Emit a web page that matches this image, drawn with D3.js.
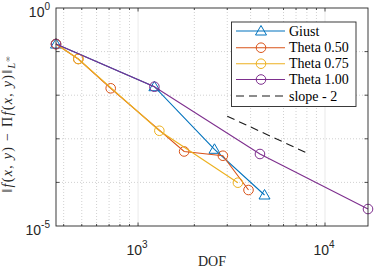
<!DOCTYPE html>
<html>
<head>
<meta charset="utf-8">
<script src="https://cdn.jsdelivr.net/npm/d3@7"></script>
<style>
    html, body { margin: 0; padding: 0; background: #fff; }
    svg { display: block; }
</style>
</head>
<body>
<div id="chart"></div>
<script>
"use strict";

// Series (DOF vs. L-infinity error)
const seriesNames = ["Giust", "Theta 0.50", "Theta 0.75", "Theta 1.00"];
const giustDof = [364, 1223, 2563, 4748];
const giustErr = [0.149, 0.01566, 5.74e-4, 5.14e-5];
const theta050Dof = [364, 479, 714, 1764, 2843, 3898];
const theta050Err = [0.149, 0.0677, 0.0144, 5.12e-4, 4.09e-4, 6.69e-5];
const theta075Dof = [364, 479, 1300, 3420];
const theta075Err = [0.149, 0.0677, 1.53e-3, 9.85e-5];
const theta100Dof = [364, 1223, 4488, 16982];
const theta100Err = [0.149, 0.01566, 4.48e-4, 2.45e-5];

// Reference slope line
const slopeLabel = "slope - 2";
const slopeDof = [3000, 8200];
const slopeErr = [3.3e-3, 4.5e-4];

// Axis ticks
const xMajorTicks = [1e3, 1e4];
const xMinorTicks = [400, 500, 600, 700, 800, 900, 2000, 3000, 4000, 5000, 6000, 7000, 8000, 9000];
const yMajorTicks = [1e-5, 1e0];
const yMinorTicks = [1e-4, 1e-3, 1e-2, 1e-1];
const xTickLabels = [["10", "3"], ["10", "4"]];
const yTickLabels = [["10", "-5"], ["10", "0"]];

const width = 374, height = 270;
const margin = { top: 8, left: 56, bottom: 44, right: 6 };
const innerW = width - margin.left - margin.right;
const innerH = height - margin.top - margin.bottom;

const colors = ["#0072BD", "#D95319", "#EDB120", "#7E2F8E"];
const axisColor = "#262626";
const sansFont = "'Liberation Sans', Arial, sans-serif";
const serifFont = "'Liberation Serif', 'Times New Roman', serif";

let series = [
    { name: seriesNames[0], dof: giustDof, err: giustErr, marker: "triangle" },
    { name: seriesNames[1], dof: theta050Dof, err: theta050Err, marker: "circle" },
    { name: seriesNames[2], dof: theta075Dof, err: theta075Err, marker: "circle" },
    { name: seriesNames[3], dof: theta100Dof, err: theta100Err, marker: "circle" }
];
series.forEach((s, i) => { s.color = colors[i]; });

let svg = d3.select("#chart").append("svg")
    .attr("width", width)
    .attr("height", height);

let xScale = d3.scaleLog()
    .domain([d3.min(theta100Dof), d3.max(theta100Dof)])
    .range([margin.left, margin.left + innerW]);

let yScale = d3.scaleLog()
    .domain([1e-5, 1])
    .range([margin.top + innerH, margin.top]);

let x0 = margin.left, x1 = margin.left + innerW;
let y0 = margin.top + innerH, y1 = margin.top;

// Grid lines
let grid = svg.append("g").attr("class", "grid");

grid.selectAll("line.xminor")
    .data(xMinorTicks)
    .enter().append("line")
    .attr("x1", d => xScale(d)).attr("x2", d => xScale(d))
    .attr("y1", y0).attr("y2", y1)
    .style("stroke", "#bdbdbd")
    .style("stroke-width", 0.7)
    .style("stroke-dasharray", "1 2");

grid.selectAll("line.yminor")
    .data(yMinorTicks)
    .enter().append("line")
    .attr("y1", d => yScale(d)).attr("y2", d => yScale(d))
    .attr("x1", x0).attr("x2", x1)
    .style("stroke", "#bdbdbd")
    .style("stroke-width", 0.7)
    .style("stroke-dasharray", "1 2");

grid.selectAll("line.xmajor")
    .data(xMajorTicks)
    .enter().append("line")
    .attr("x1", d => xScale(d)).attr("x2", d => xScale(d))
    .attr("y1", y0).attr("y2", y1)
    .style("stroke", "#e3e3e3")
    .style("stroke-width", 0.8);

// Data lines and markers
let line = d3.line()
    .x(d => xScale(d[0]))
    .y(d => yScale(d[1]));

function drawMarker(g, type, color, cx, cy) {
    if (type === "triangle") {
        g.append("path")
            .attr("d", "M" + cx + "," + (cy - 5.5) + "L" + (cx + 5.5) + "," + (cy + 4) +
                "L" + (cx - 5.5) + "," + (cy + 4) + "Z")
            .style("fill", "none")
            .style("stroke", color)
            .style("stroke-width", 1);
    } else {
        g.append("circle")
            .attr("cx", cx).attr("cy", cy).attr("r", 4.8)
            .style("fill", "none")
            .style("stroke", color)
            .style("stroke-width", 1);
    }
}

let plot = svg.append("g").attr("class", "series");

series.forEach(s => {
    let pts = d3.zip(s.dof, s.err);
    let g = plot.append("g");
    g.append("path")
        .datum(pts)
        .attr("d", line)
        .style("fill", "none")
        .style("stroke", s.color)
        .style("stroke-width", 1.1);
    pts.forEach(p => drawMarker(g, s.marker, s.color, xScale(p[0]), yScale(p[1])));
});

// Slope reference
plot.append("path")
    .datum(d3.zip(slopeDof, slopeErr))
    .attr("d", line)
    .style("fill", "none")
    .style("stroke", "#1a1a1a")
    .style("stroke-width", 1.1)
    .style("stroke-dasharray", "8 5");

// Axes box and ticks
let axes = svg.append("g").attr("class", "axes");

axes.append("rect")
    .attr("x", x0).attr("y", y1)
    .attr("width", innerW).attr("height", innerH)
    .style("fill", "none")
    .style("stroke", axisColor)
    .style("stroke-width", 0.9);

function xTicks(values, len) {
    values.forEach(v => {
        let px = xScale(v);
        axes.append("line").attr("x1", px).attr("x2", px).attr("y1", y0).attr("y2", y0 - len);
        axes.append("line").attr("x1", px).attr("x2", px).attr("y1", y1).attr("y2", y1 + len);
    });
}
function yTicks(values, len) {
    values.forEach(v => {
        let py = yScale(v);
        axes.append("line").attr("y1", py).attr("y2", py).attr("x1", x0).attr("x2", x0 + len);
        axes.append("line").attr("y1", py).attr("y2", py).attr("x1", x1).attr("x2", x1 - len);
    });
}
xTicks(xMajorTicks, 3.5);
xTicks(xMinorTicks, 2);
yTicks(yMinorTicks, 3.5);
axes.selectAll("line")
    .style("stroke", axisColor)
    .style("stroke-width", 0.8);

// Tick labels (power-of-ten)
function powerLabel(g, parts, x, y, anchor) {
    let t = g.append("text")
        .attr("x", x).attr("y", y)
        .attr("text-anchor", anchor)
        .style("font-family", sansFont)
        .style("font-size", "14px")
        .style("fill", axisColor);
    t.append("tspan").text(parts[0]);
    t.append("tspan").attr("dy", -7).style("font-size", "10px").text(parts[1]);
}

let labels = svg.append("g").attr("class", "labels");
xMajorTicks.forEach((v, i) => powerLabel(labels, xTickLabels[i], xScale(v) - 1, 255, "middle"));
yMajorTicks.forEach((v, i) => powerLabel(labels, yTickLabels[i], 50, yScale(v) + 9, "end"));

// Axis titles
labels.append("text")
    .attr("x", (x0 + x1) / 2).attr("y", 266)
    .attr("text-anchor", "middle")
    .style("font-family", serifFont)
    .style("font-size", "14px")
    .style("fill", axisColor)
    .text("DOF");

let yl = labels.append("text")
    .attr("transform", "translate(12," + ((y0 + y1) / 2 + 7) + ") rotate(-90)")
    .attr("text-anchor", "middle")
    .style("font-family", serifFont)
    .style("font-size", "14px")
    .style("letter-spacing", "1.3px")
    .style("fill", axisColor);
yl.append("tspan").text("\u2016");
yl.append("tspan").style("font-style", "italic").text("f");
yl.append("tspan").text("(");
yl.append("tspan").style("font-style", "italic").text("x");
yl.append("tspan").text(", ");
yl.append("tspan").style("font-style", "italic").text("y");
yl.append("tspan").text(")  \u2212  \u03A0");
yl.append("tspan").style("font-style", "italic").text("f");
yl.append("tspan").text("(");
yl.append("tspan").style("font-style", "italic").text("x");
yl.append("tspan").text(", ");
yl.append("tspan").style("font-style", "italic").text("y");
yl.append("tspan").text(")\u2016");
yl.append("tspan").attr("dy", 3).style("font-size", "10px").style("font-style", "italic").text("L");
yl.append("tspan").attr("dy", -5).style("font-size", "7px").text("\u221E");

// Legend
let legend = svg.append("g").attr("class", "legend");
let lx = 231.5, ly = 22, lw = 124.5, lh = 84.5;
let rowY = [31, 47.7, 63.7, 79.5, 96];

legend.append("rect")
    .attr("x", lx).attr("y", ly).attr("width", lw).attr("height", lh)
    .style("fill", "#fff")
    .style("stroke", axisColor)
    .style("stroke-width", 0.9);

let entries = series.map(s => ({ name: s.name, color: s.color, marker: s.marker, dash: null }))
    .concat([{ name: slopeLabel, color: "#1a1a1a", marker: null, dash: "8 5" }]);

entries.forEach((e, i) => {
    let g = legend.append("g");
    g.append("line")
        .attr("x1", 236).attr("x2", 285)
        .attr("y1", rowY[i]).attr("y2", rowY[i])
        .style("stroke", e.color)
        .style("stroke-width", 1.1)
        .style("stroke-dasharray", e.dash);
    if (e.marker) drawMarker(g, e.marker, e.color, 261, rowY[i]);
    g.append("text")
        .attr("x", 289).attr("y", rowY[i] + 4.5)
        .style("font-family", serifFont)
        .style("font-size", "14px")
        .style("fill", "#000")
        .text(e.name);
});
</script>
</body>
</html>
